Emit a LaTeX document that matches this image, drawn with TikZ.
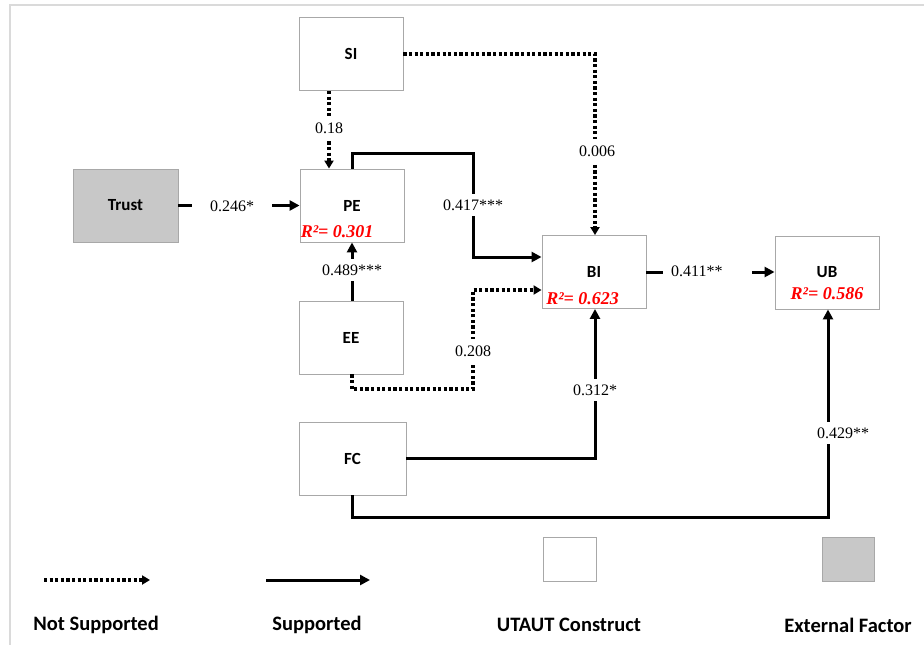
\documentclass[tikz,border=0pt]{standalone}
\usepackage{fontspec}
\setmainfont{Liberation Serif}
\newfontfamily\carlitofont{Carlito}
\usetikzlibrary{arrows.meta,calc}
\definecolor{boxgray}{HTML}{A8A8A8}
\definecolor{extfill}{HTML}{C8C8C8}
\definecolor{framegray}{HTML}{DADADA}
\definecolor{rred}{HTML}{FF0000}
\begin{document}
\begin{tikzpicture}[x=1pt,y=-1pt,
  box/.style={draw=boxgray, line width=0.9pt, fill=white, inner sep=0pt,
    minimum width=104pt, minimum height=73pt,
    font=\carlitofont\bfseries\fontsize{17}{20}\selectfont},
  ext/.style={box, fill=extfill},
  lbl/.style={fill=white, inner xsep=6pt, inner ysep=7pt,
    font=\fontsize{16}{19}\selectfont},
  rsq/.style={text=rred, inner sep=0pt,
    font=\bfseries\itshape\fontsize{18}{21}\selectfont},
  sup/.style={line width=3pt, -{Triangle[length=10pt,width=10pt]}},
  nsup/.style={line width=3.4pt, dash pattern=on 3.2pt off 2.4pt,
    -{Triangle[length=8pt,width=9pt]}},
  legtxt/.style={font=\carlitofont\bfseries\fontsize{20.5}{24}\selectfont}
]
\useasboundingbox (0,0) rectangle (924,645);
\fill[white] (0,0) rectangle (924,645);
\draw[framegray, line width=2pt] (10,645) -- (10,5) -- (924,5);

% boxes
\node[box] (si) at (351,54) {SI};
\node[box] (pe) at (352,205.5) {PE};
\node[ext, minimum width=105pt] (trust) at (125.5,205.5) {Trust};
\node[box] (ee) at (351,337.5) {EE};
\node[box, minimum width=107pt] (fc) at (352.5,458.5) {FC};
\node[box] (bi) at (594,272) {BI};
\node[box] (ub) at (827,272.5) {UB};

\node[rsq, anchor=west] at ($(pe.south west)+(1,-11)$) {R²= 0.301};
\node[rsq, anchor=west] at ($(bi.south west)+(4.5,-10.5)$) {R²= 0.623};
\node[rsq] at ($(ub.south)+(0,-16)$) {R²= 0.586};

% routing coordinates
\coordinate (cSI) at (329,0);
\coordinate (cPE) at (352,0);
\coordinate (cMid) at (473,0);
\coordinate (cBI) at (595,0);
\coordinate (cUB) at (828,0);
\coordinate (rTop) at (0,153);
\coordinate (rBIa) at (0,257);
\coordinate (rBIb) at (0,290);
\coordinate (rEE) at (0,389);
\coordinate (rFC) at (0,517);

% connectors
\draw[sup] (trust.east) -- (pe.west);
\draw[nsup] (si.south -| cSI) -- (pe.north -| cSI);
\draw[nsup] (si.east) -| (cBI |- bi.north);
\draw[sup] (pe.north) |- (cMid |- rTop) -- (cMid |- rBIa) -- (bi.west |- rBIa);
\draw[sup] (ee.north -| cPE) -- (pe.south -| cPE);
\draw[nsup] (ee.south -| cPE) |- (cMid |- rEE) -- (cMid |- rBIb) -- (bi.west |- rBIb);
\draw[sup] (fc.east) -| (cBI |- bi.south);
\draw[sup] (fc.south -| cPE) |- (cUB |- rFC) -- (cUB |- ub.south);
\draw[sup] (bi.east) -- (ub.west |- bi.east);

% labels
\node[lbl, inner xsep=18pt] at (232,206) {0.246*};
\node[lbl] at (329,128) {0.18};
\node[lbl] at (597,151) {0.006};
\node[lbl, inner ysep=6pt] at (473,205) {0.417***};
\node[lbl, inner ysep=6pt] at (352,270) {0.489***};
\node[lbl] at (473,351) {0.208};
\node[lbl, inner ysep=6pt] at (595,390) {0.312*};
\node[lbl, inner ysep=6pt] at (843,433) {0.429**};
\node[lbl, anchor=west, inner xsep=8pt, text width=73pt, align=left] at (663,271) {0.411**};

% legend
\coordinate (la1) at (44,580);
\coordinate (la2) at (150,580);
\coordinate (lb1) at (266,580);
\coordinate (lb2) at (370,580);
\draw[nsup] (la1) -- (la2);
\draw[sup] (lb1) -- (lb2);
\node[box, minimum width=53pt, minimum height=44pt] (legu) at (569.5,559) {};
\node[ext, minimum width=52pt, minimum height=44pt] (lege) at (848,559) {};
\node[legtxt] (t1) at (96,625) {Not Supported};
\node[legtxt] (t2) at (317,625) {Supported};
\node[legtxt] (t3) at (569,625) {UTAUT Construct};
\node[legtxt] (t4) at (848,625) {External Factor};
\end{tikzpicture}
\end{document}
